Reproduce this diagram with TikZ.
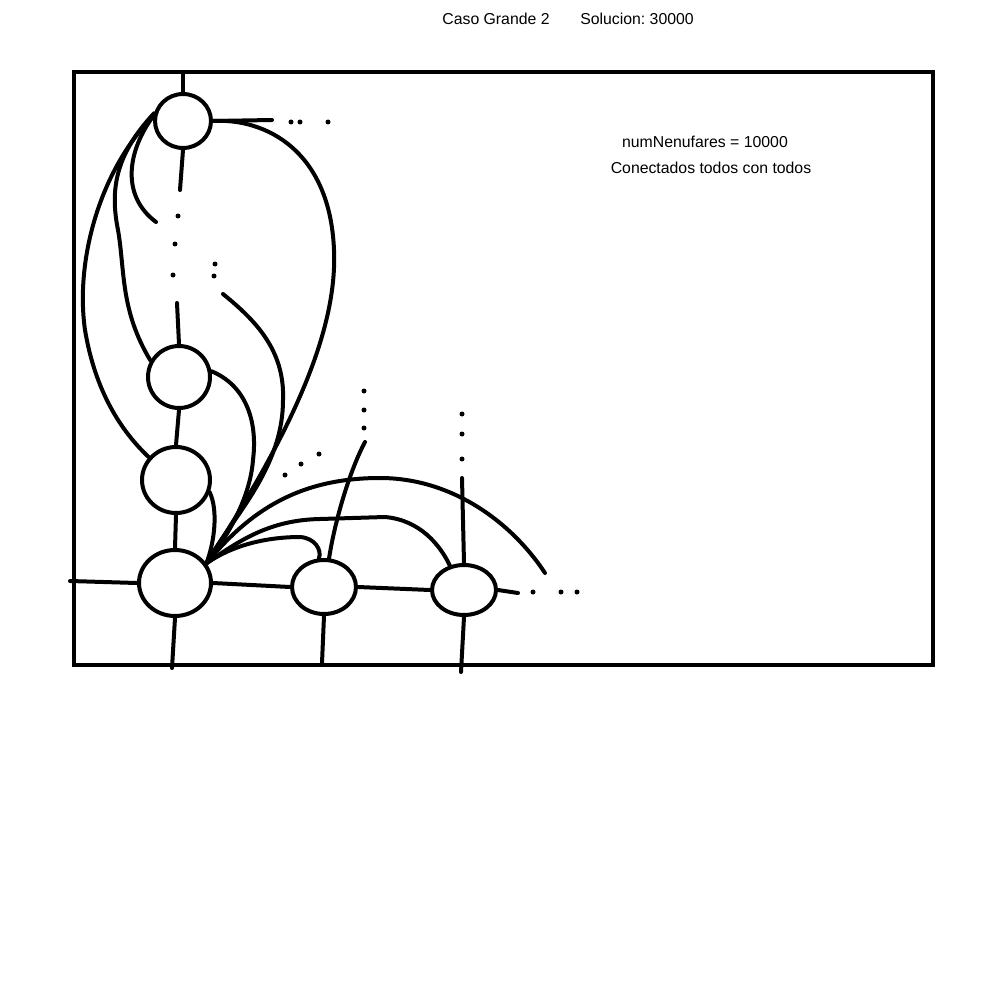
\documentclass[tikz,border=0pt]{standalone}
\usepackage{fontspec}
\setmainfont{Liberation Sans}
\frenchspacing
\usetikzlibrary{shapes.geometric}

\begin{document}
\begin{tikzpicture}[x=0.02cm,y=-0.02cm,line width=0.08cm,line cap=round,
    lily/.style={draw,ellipse,inner sep=0pt},
    label/.style={font=\fontsize{9}{11}\selectfont,inner sep=0pt}]
  \useasboundingbox (0,0) rectangle (1000,1000);

  % titles
  \node[label] (title) at (496,19) {Caso Grande 2};
  \node[label] (sol) at (637,19) {Solucion: 30000};
  \node[label] (num) at (705,142) {numNenufares = 10000};
  \node[label] (todos) at (711,168) {Conectados todos con todos};

  % pond
  \draw (74,72) rectangle (933,665);

  % lilies
  \node[lily,minimum width=1.12cm,minimum height=1.08cm] (a) at (183,121) {};
  \node[lily,minimum width=1.24cm,minimum height=1.24cm] (b) at (179,377) {};
  \node[lily,minimum width=1.36cm,minimum height=1.32cm] (c) at (176,480) {};
  \node[lily,minimum width=1.44cm,minimum height=1.32cm] (d) at (175,583) {};
  \node[lily,minimum width=1.28cm,minimum height=1.08cm] (e) at (324,587) {};
  \node[lily,minimum width=1.28cm,minimum height=1.00cm] (f) at (464,590) {};

  % loose ends
  \coordinate (atop) at (183,73);
  \coordinate (aright) at (272,120);
  \coordinate (adown) at (180,190);
  \coordinate (bup) at (177,303);
  \coordinate (gfree) at (223,294);
  \coordinate (hfree) at (156,222);
  \coordinate (dleft) at (70,581);
  \coordinate (ddown) at (172,668);
  \coordinate (edown) at (322,663);
  \coordinate (eup) at (365,442);
  \coordinate (fdown) at (461,672);
  \coordinate (fup) at (462,478);
  \coordinate (fright) at (518,593);
  \coordinate (arcend) at (545,573);

  % straight links
  \draw (a.north) -- (atop);
  \draw (a.east) -- (aright);
  \draw (a.south) -- (adown);
  \draw (b.north) -- (bup);
  \draw (b.south) -- (c.north);
  \draw (c.south) -- (d.north);
  \draw (d.west) -- (dleft);
  \draw (d.south) -- (ddown);
  \draw (d.east) -- (e.west);
  \draw (e.south) -- (edown);
  \draw (e.east) -- (f.west);
  \draw (f.south) -- (fdown);
  \draw (f.north) -- (fup);
  \draw (f.east) -- (fright);

  % curved links
  \draw (a.east) .. controls (265,118) and (330,150) .. (334,250)
    .. controls (338,340) and (280,450) .. (d.32);
  \draw (gfree) .. controls (255,320) and (285,350) .. (283,400)
    .. controls (283,470) and (230,520) .. (d.32);
  \draw (b.10) .. controls (245,385) and (258,420) .. (253,460)
    .. controls (250,500) and (225,540) .. (d.32);
  \draw (c.-20) .. controls (218,510) and (215,540) .. (d.32);
  \draw (a.170) .. controls (100,170) and (75,260) .. (85,330)
    .. controls (95,390) and (120,430) .. (c.140);
  \draw (a.165) .. controls (115,155) and (110,190) .. (118,230)
    .. controls (125,270) and (120,310) .. (b.150);
  \draw (a.170) .. controls (128,150) and (120,195) .. (hfree);
  \draw (d.32) .. controls (250,510) and (300,478) .. (380,478)
    .. controls (450,478) and (510,520) .. (arcend);
  \draw (d.32) .. controls (240,540) and (270,520) .. (320,519) -- (385,517)
    .. controls (420,520) and (440,545) .. (f.120);
  \draw (d.32) .. controls (240,540) and (280,537) .. (300,537)
    .. controls (315,538) and (322,550) .. (e.100);
  \draw (e.80) .. controls (335,520) and (350,470) .. (eup);

  % dots
  \foreach \p in {(291,122),(300,122),(328,122),(178,216),(175,244),(173,275),
      (215,264),(214,276),(285,475),(301,464),(319,454),(364,391),(364,410),
      (364,428),(462,414),(462,434),(462,459),(533,592),(561,592),(577,592)}
    \fill \p circle (0.05cm);
\end{tikzpicture}
\end{document}
